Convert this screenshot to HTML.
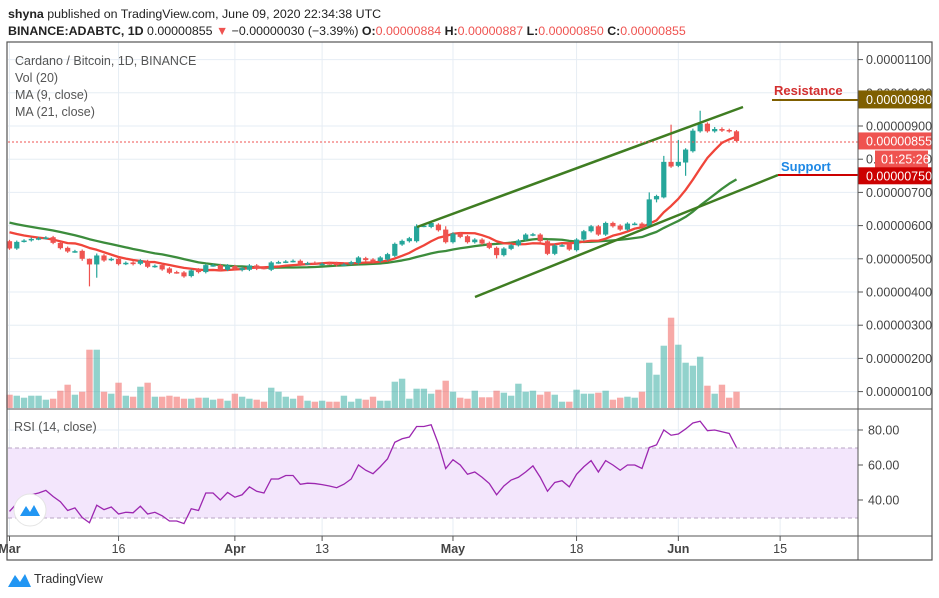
<!DOCTYPE html>
<html><head><meta charset="utf-8">
<style>
body{margin:0;background:#fff;}
svg{display:block;font-family:"Liberation Sans",sans-serif;}
</style></head>
<body>
<svg id="c" width="939" height="598" viewBox="0 0 939 598" xmlns="http://www.w3.org/2000/svg">
<rect x="0" y="0" width="939" height="598" fill="#fff"/>
<text x="8" y="18" font-size="12.4" fill="#222"><tspan font-weight="bold">shyna</tspan> published on TradingView.com, June 09, 2020 22:34:38 UTC</text>
<text x="8" y="35" font-size="12.4" fill="#222"><tspan font-weight="bold">BINANCE:ADABTC, 1D</tspan> 0.00000855 <tspan fill="#ef5350">▼</tspan> −0.00000030 (−3.39%) <tspan font-weight="bold">O:</tspan><tspan fill="#ef5350">0.00000884</tspan> <tspan font-weight="bold">H:</tspan><tspan fill="#ef5350">0.00000887</tspan> <tspan font-weight="bold">L:</tspan><tspan fill="#ef5350">0.00000850</tspan> <tspan font-weight="bold">C:</tspan><tspan fill="#ef5350">0.00000855</tspan></text>
<g id="grid"></g>
<rect x="8" y="448" width="850" height="70" fill="#f3e6fc"/>
<line x1="8" x2="858" y1="448" y2="448" stroke="#b9a6c4" stroke-dasharray="4,3"/>
<line x1="8" x2="858" y1="518" y2="518" stroke="#b9a6c4" stroke-dasharray="4,3"/>
<g id="vol"></g>
<g id="ma"></g>
<g id="candles"></g>
<line x1="417" y1="227" x2="743" y2="107" stroke="#3f7d22" stroke-width="2.5"/>
<line x1="475" y1="297" x2="778" y2="175" stroke="#3f7d22" stroke-width="2.5"/>
<line x1="8" x2="858" y1="142" y2="142" stroke="#ef5350" stroke-dasharray="2,2"/>
<line x1="772" x2="858" y1="100" y2="100" stroke="#7f5f00" stroke-width="2"/>
<text x="774" y="95" font-size="13" font-weight="bold" fill="#d32f2f">Resistance</text>
<line x1="778" x2="858" y1="175" y2="175" stroke="#cc0000" stroke-width="2"/>
<text x="781" y="171" font-size="13" font-weight="bold" fill="#1e88e5">Support</text>
<polyline id="rsi" fill="none" stroke="#9c27b0" stroke-width="1.3"/>
<text x="15" y="65" font-size="12.5" fill="#555">Cardano / Bitcoin, 1D, BINANCE</text>
<text x="15" y="82" font-size="12.5" fill="#555">Vol (20)</text>
<text x="15" y="99" font-size="12.5" fill="#555">MA (9, close)</text>
<text x="15" y="116" font-size="12.5" fill="#555">MA (21, close)</text>
<text x="14" y="431" font-size="12.5" fill="#555">RSI (14, close)</text>
<circle cx="30" cy="510" r="16" fill="#fff" stroke="#e4e4e4"/>
<path d="M20 516 L26 506 L30 512 L34 505 L40 516 Z" fill="#2196f3"/>
<g id="axes"></g>
<rect x="7" y="42" width="925" height="518" fill="none" stroke="#555" stroke-width="1.2"/>
<line x1="858" x2="858" y1="42" y2="560" stroke="#555"/>
<line x1="7" x2="932" y1="409" y2="409" stroke="#555"/>
<line x1="7" x2="932" y1="536" y2="536" stroke="#555"/>
<g>
<path d="M8 587 L15 575 L20 582 L25 574 L31 587 Z" fill="#2196f3"/>
<text x="34" y="583" font-size="12.5" fill="#333">TradingView</text>
</g>
</svg>
<script>
const opens=[553,531,553,556,560,562,565,548,533,522,524,500,483,510,497,500,485,489,485,493,477,481,471,460,459,448,468,460,480,481,467,478,466,467,480,473,467,489,491,493,494,485,488,484,487,487,482,485,487,502,498,493,498,509,543,553,553,599,596,603,588,550,576,568,550,558,548,533,511,530,541,558,572,573,553,515,540,546,526,558,583,598,573,608,600,588,605,606,598,679,685,792,780,790,824,884,907,884,891,888,884];
const closes=[531,551,555,560,562,564,548,532,522,523,500,483,510,495,500,484,488,484,495,476,479,468,458,459,447,465,460,481,481,466,480,470,472,480,470,472,489,490,492,494,483,487,487,485,486,481,483,490,504,496,491,504,514,545,554,562,598,600,608,586,550,576,566,550,558,546,533,511,531,541,555,573,574,553,515,540,541,528,558,583,598,573,608,598,588,606,606,596,679,689,792,778,792,829,886,907,884,891,886,884,855];
const wickUp={11:1,12:6,56:6,60:10,88:21,90:18,91:112,92:66,94:6,95:39,97:6,98:5};
const wickDn={11:66,12:40,10:6,67:10,89:9,90:3,93:40,92:4,100:4};
const prevCloses=[650,645,640,638,635,630,628,625,622,620,615,620,600,595,590,588,585,582,578,571];
const volumes=[1.33,1.23,1.03,1.23,1.23,0.83,0.93,1.73,2.33,1.33,1.63,5.83,5.83,1.63,1.43,2.53,1.23,1.13,2.13,2.53,1.13,1.13,1.23,1.13,0.93,0.93,1.03,1.03,0.83,0.93,0.73,1.43,1.13,0.93,0.83,0.63,2.03,1.63,1.13,0.93,1.23,0.73,0.63,0.73,0.63,0.63,1.23,0.63,0.93,0.83,1.13,0.73,0.73,2.63,2.93,0.93,1.93,1.93,1.43,1.83,2.73,1.63,1.03,0.93,1.73,1.07,1.07,1.73,1.53,1.23,2.43,1.63,1.73,1.33,1.63,1.33,0.63,0.63,1.83,1.43,1.43,1.53,1.73,0.83,1.03,1.13,1.03,1.63,4.53,3.33,6.23,9.03,6.33,4.53,4.23,5.13,2.23,1.43,2.33,1.03,1.63];
const rsiValues=[33.5,38,42,43,44,45.5,42,39,34,35.5,30,27,37,34.5,36,32,33,32.7,36.5,32,33,31,28,28,26.5,35,34,44,44,40,44.3,41.6,43,47.5,45,44,52,52,54,54,49,49.6,49.4,48.8,48,47,49,52,60,57,55,59,63.5,73,75,76,82,82,83,72,58,63,60,54.7,56,53,49.4,43,48,51.4,53,56,59.5,53,45,50,51,47.5,54.7,59,62.5,56,62.5,60,57,60,60,58,70,71.5,80,77,77.7,80.6,84,85,79.6,80,79,78,70];
const priceTicks=[1100,1000,900,800,700,600,500,400,300,200,100];
const rsiTicks=[80,60,40];
const dateTicks=[{i:0,t:"Mar",b:1},{i:15,t:"16",b:0},{i:31,t:"Apr",b:1},{i:43,t:"13",b:0},{i:61,t:"May",b:1},{i:78,t:"18",b:0},{i:92,t:"Jun",b:1},{i:106,t:"15",b:0}];

const NS="http://www.w3.org/2000/svg";
const X=i=>9.5+7.27*i;
const Y=p=>126+(900-p)*0.332;
const RY=v=>430+(80-v)*1.75;
const VY=v=>408-v*10;
function mk(tag,attrs,parent){const e=document.createElementNS(NS,tag);for(const k in attrs)e.setAttribute(k,attrs[k]);parent.appendChild(e);return e;}
const G=id=>document.getElementById(id);
const GREEN="#26a69a",RED="#ef5350";

const grid=G('grid');
priceTicks.forEach(p=>{const l=mk('line',{x1:8,x2:858,y1:Y(p),y2:Y(p),stroke:'#e6edf4'},grid);});
rsiTicks.forEach(v=>{const l=mk('line',{x1:8,x2:858,y1:RY(v),y2:RY(v),stroke:'#e6edf4'},grid);});
dateTicks.forEach(d=>{const l=mk('line',{x1:X(d.i),x2:X(d.i),y1:42,y2:536,stroke:'#e6edf4'},grid);});

const vg=G('vol');
volumes.forEach((v,i)=>{const up=closes[i]>=opens[i];const r=mk('rect',{x:X(i)-3.2,y:VY(v),width:6.4,height:408-VY(v),fill:up?GREEN:RED,'fill-opacity':0.5},vg);

});

const all=prevCloses.concat(closes);
function ma(n){const out=[];for(let i=0;i<closes.length;i++){const j=i+prevCloses.length;let s=0;for(let k=j-n+1;k<=j;k++)s+=all[k];out.push(s/n);}return out;}
const mg=G('ma');
const m21=mk('polyline',{points:ma(21).map((v,i)=>X(i)+','+Y(v)).join(' '),fill:'none',stroke:'#3c8c3c',"stroke-width":2.3,"stroke-linejoin":"round"},mg);


const m9=mk('polyline',{points:ma(9).map((v,i)=>X(i)+','+Y(v)).join(' '),fill:'none',stroke:'#f0453a',"stroke-width":2.3,"stroke-linejoin":"round"},mg);



const cg=G('candles');
opens.forEach((o,i)=>{const c=closes[i];const up=c>=o;const col=up?GREEN:RED;
const hi=Math.max(o,c)+(wickUp[i]!==undefined?wickUp[i]:4);
const lo=Math.min(o,c)-(wickDn[i]!==undefined?wickDn[i]:4);
const g=mk('g',{},cg);


mk('line',{x1:X(i),x2:X(i),y1:Y(hi),y2:Y(lo),stroke:col,"stroke-width":1.2},g);
const top=Y(Math.max(o,c)),h=Math.max(1.5,Y(Math.min(o,c))-top);
mk('rect',{x:X(i)-2.6,y:top,width:5.2,height:h,fill:col},g);});

G('rsi').setAttribute('points',rsiValues.map((v,i)=>X(i)+','+RY(v)).join(' '));

const ax=G('axes');
priceTicks.forEach(p=>{mk('line',{x1:858,x2:863,y1:Y(p),y2:Y(p),stroke:'#555'},ax);
const t=mk('text',{x:866,y:Y(p)+4.5,"font-size":12.5,fill:'#444'},ax);t.textContent='0.'+String(p).padStart(8,'0');

});
rsiTicks.forEach(v=>{mk('line',{x1:858,x2:863,y1:RY(v),y2:RY(v),stroke:'#555'},ax);
const t=mk('text',{x:868,y:RY(v)+4.5,"font-size":12.5,fill:'#444'},ax);t.textContent=v.toFixed(2);

});
dateTicks.forEach(d=>{mk('line',{x1:X(d.i),x2:X(d.i),y1:536,y2:541,stroke:'#555'},ax);
const t=mk('text',{x:X(d.i),y:553,"font-size":12.5,fill:'#444',"text-anchor":"middle","font-weight":d.b?'bold':'normal'},ax);t.textContent=d.t;

});
function box(y,h,fill,label,name,x,w){const g=mk('g',{},ax);
mk('rect',{x:x||858,y:y-h/2,width:w||74,height:h,fill:fill},g);
const t=mk('text',{x:(x||858)+(x?6:8),y:y+4.5,"font-size":12.5,fill:'#fff'},g);t.textContent=label;}
box(Y(980),18,'#7f5f00','0.00000980','resistance-price-box');
box(Y(855),17,'#ef5350','0.00000855','last-price-box');
box(159,17,'#ef5350','01:25:26','countdown-box',875,53);
box(Y(750),17,'#cc0000','0.00000750','support-price-box');
</script>
</body></html>
